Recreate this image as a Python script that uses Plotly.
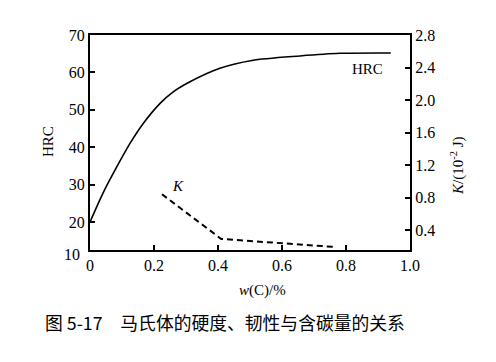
import plotly.graph_objects as go

# HRC vs carbon content
hrc_w = [0.0, 0.04, 0.081, 0.125, 0.167, 0.219, 0.26, 0.3125, 0.406, 0.506, 0.656, 0.78, 0.94]
hrc_v = [20.0, 27.6, 34.3, 41.0, 46.4, 51.7, 54.8, 57.5, 61.1, 63.2, 64.4, 65.1, 65.2]

# Toughness K vs carbon content
k_w = [0.225, 0.41, 0.77]
k_v = [0.84, 0.29, 0.19]

x_ticks = [0, 0.2, 0.4, 0.6, 0.8, 1.0]
x_ticktext = ["0", "0.2", "0.4", "0.6", "0.8", "1.0"]
hrc_ticks = [20, 30, 40, 50, 60, 70]
k_ticks = [0.4, 0.8, 1.2, 1.6, 2.0, 2.4, 2.8]
k_ticktext = ["0.4", "0.8", "1.2", "1.6", "2.0", "2.4", "2.8"]

SERIF = "Liberation Serif, Times New Roman, serif"
CJK = "Noto Sans CJK SC"

fig = go.Figure()
fig.add_trace(go.Scatter(x=hrc_w, y=hrc_v, mode="lines",
                         line=dict(color="black", width=1.6, shape="spline", smoothing=0.8),
                         showlegend=False, yaxis="y"))
fig.add_trace(go.Scatter(x=k_w, y=k_v, mode="lines", line=dict(color="black", width=2, dash="6px,4px"),
                         showlegend=False, yaxis="y2"))

axis_common = dict(showgrid=False, zeroline=False, showline=True, linecolor="black", linewidth=2,
                   ticks="inside", ticklen=5, tickwidth=2, tickcolor="black",
                   tickfont=dict(family=SERIF, size=16, color="black"))

# page body has an 8px margin; compensate so the plot area sits at x 90..410, y 35..250
fig.update_layout(
    width=496, height=362,
    margin=dict(l=82, r=94, t=27, b=120),
    paper_bgcolor="white", plot_bgcolor="white",
    xaxis=dict(range=[0, 1.0], tickvals=x_ticks, ticktext=x_ticktext, mirror=True, **axis_common),
    yaxis=dict(range=[12.5, 70], tickvals=hrc_ticks, mirror=False, **axis_common),
    yaxis2=dict(range=[0.154, 2.8], tickvals=k_ticks, ticktext=k_ticktext, overlaying="y", side="right",
                **axis_common),
)

def px_to_paper(px, py):
    return (px - 90) / 320, (250 - py) / 215

annos = []
def add(text, px, py, size=15, family=SERIF, angle=0, xanchor="center"):
    x, y = px_to_paper(px, py)
    annos.append(dict(text=text, x=x, y=y, xref="paper", yref="paper", showarrow=False,
                      font=dict(family=family, size=size, color="black"), textangle=angle,
                      xanchor=xanchor, yanchor="middle"))

add("10", 72, 254, size=16)
add("HRC", 48, 142, size=15, angle=-90)
add("<i>K</i>/(10<sup>-2</sup> J)", 457, 166, size=15, angle=-90)
add("<i>w</i>(C)/%", 262, 290, size=15)
add("HRC", 367, 69, size=15)
add("<i>K</i>", 178, 186, size=15)
add("图 5-17\u3000马氏体的硬度、韧性与含碳量的关系", 43, 322, size=17.8, family=CJK, xanchor="left")

fig.update_layout(annotations=annos)
fig.write_html("out.html")
